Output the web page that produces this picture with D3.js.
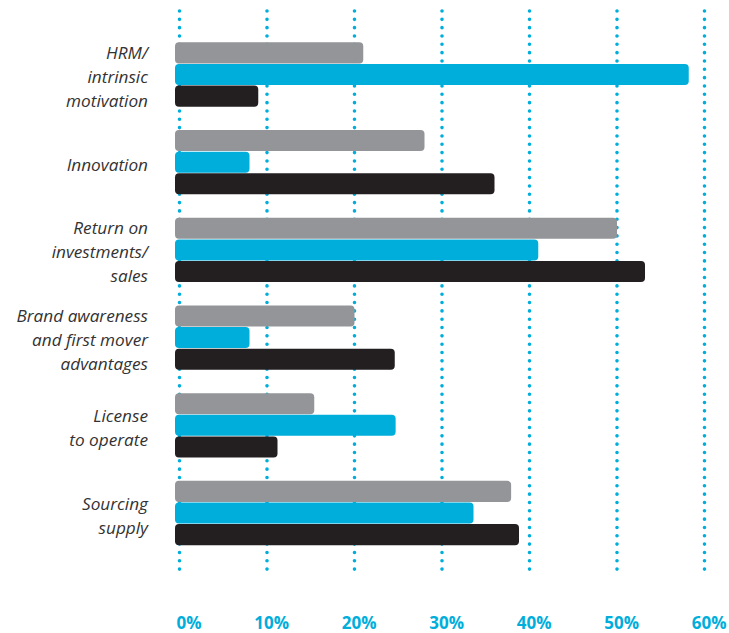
<!DOCTYPE html>
<html>
<head>
<meta charset="utf-8">
<script src="https://cdn.jsdelivr.net/npm/d3@7"></script>
<style>
  html, body { margin: 0; padding: 0; background: #fff; }
  svg { display: block; }
</style>
</head>
<body>
<svg id="chart" width="729" height="633"></svg>
<script>
// Driver categories (line breaks marked with "|")
const categories = [
  "HRM/|intrinsic|motivation",
  "Innovation",
  "Return on|investments/|sales",
  "Brand awareness|and first mover|advantages",
  "License|to operate",
  "Sourcing|supply"
];

const seriesKeys = ["grey", "blue", "black"];
const greyValues  = [21, 28, 50, 20, 15.4, 37.9];
const blueValues  = [58.2, 8, 41, 8, 24.7, 33.6];
const blackValues = [9, 36, 53.2, 24.6, 11.2, 38.8];

const tickValues = [0, 10, 20, 30, 40, 50, 60];
const tickLabels = ["0%", "10%", "20%", "30%", "40%", "50%", "60%"];

const colors = { grey: "#939598", blue: "#00aedb", black: "#231f20" };
const valuesByKey = { grey: greyValues, blue: blueValues, black: blackValues };

const svg = d3.select("#chart");

const x = d3.scaleLinear().domain([0, 60]).range([179.5, 704.5]);

const y = d3.scaleBand()
  .domain(categories)
  .range([30.65, 556.85])
  .paddingInner(0.26)
  .paddingOuter(0.13);

const ySub = d3.scaleBand()
  .domain(seriesKeys)
  .range([0, y.bandwidth()]);

// Dotted vertical gridlines
svg.append("g")
  .selectAll("line")
  .data(tickValues)
  .join("line")
  .attr("x1", d => x(d))
  .attr("x2", d => x(d))
  .attr("y1", 11)
  .attr("y2", 577)
  .attr("stroke", "#00aedb")
  .attr("stroke-width", 3.6)
  .attr("stroke-linecap", "round")
  .attr("stroke-dasharray", "0 8.33");

// Bars
const rows = categories.map((c, i) => ({
  category: c,
  bars: seriesKeys.map(k => ({ key: k, value: valuesByKey[k][i] }))
}));

const groups = svg.append("g")
  .selectAll("g")
  .data(rows)
  .join("g")
  .attr("transform", d => `translate(0,${y(d.category)})`);

groups.selectAll("rect")
  .data(d => d.bars)
  .join("rect")
  .attr("x", x(0) - 4.5)
  .attr("y", d => ySub(d.key) + 0.3)
  .attr("width", d => x(d.value) - x(0) + 4.5)
  .attr("height", ySub.bandwidth() - 0.6)
  .attr("rx", 4)
  .attr("ry", 4)
  .attr("fill", d => colors[d.key]);

// Category labels
const lineH = 24;
const labels = svg.append("g")
  .selectAll("text")
  .data(categories)
  .join("text")
  .attr("text-anchor", "end")
  .attr("font-family", "'Open Sans', sans-serif")
  .attr("font-style", "italic")
  .attr("font-size", 17.2)
  .attr("fill", "#333");

labels.each(function(d) {
  const lines = d.split("|");
  const cy = y(d) + y.bandwidth() / 2;
  const top = cy - (lines.length - 1) * lineH / 2;
  d3.select(this).selectAll("tspan")
    .data(lines)
    .join("tspan")
    .attr("x", 148)
    .attr("y", (l, i) => top + i * lineH + 8.5)
    .text(l => l);
});

// Percentage axis along the bottom
const axis = d3.axisBottom(x)
  .tickValues(tickValues)
  .tickFormat((d, i) => tickLabels[i])
  .tickSize(0);

const ax = svg.append("g")
  .attr("transform", "translate(0,612)")
  .call(axis);

ax.select(".domain").remove();
ax.selectAll("text")
  .attr("text-anchor", "end")
  .attr("dx", 21.5)
  .attr("dy", 0)
  .attr("y", 16.8)
  .attr("font-family", "'Open Sans', sans-serif")
  .attr("font-weight", "bold")
  .attr("font-size", 17)
  .attr("fill", "#00aedb");
</script>
</body>
</html>
